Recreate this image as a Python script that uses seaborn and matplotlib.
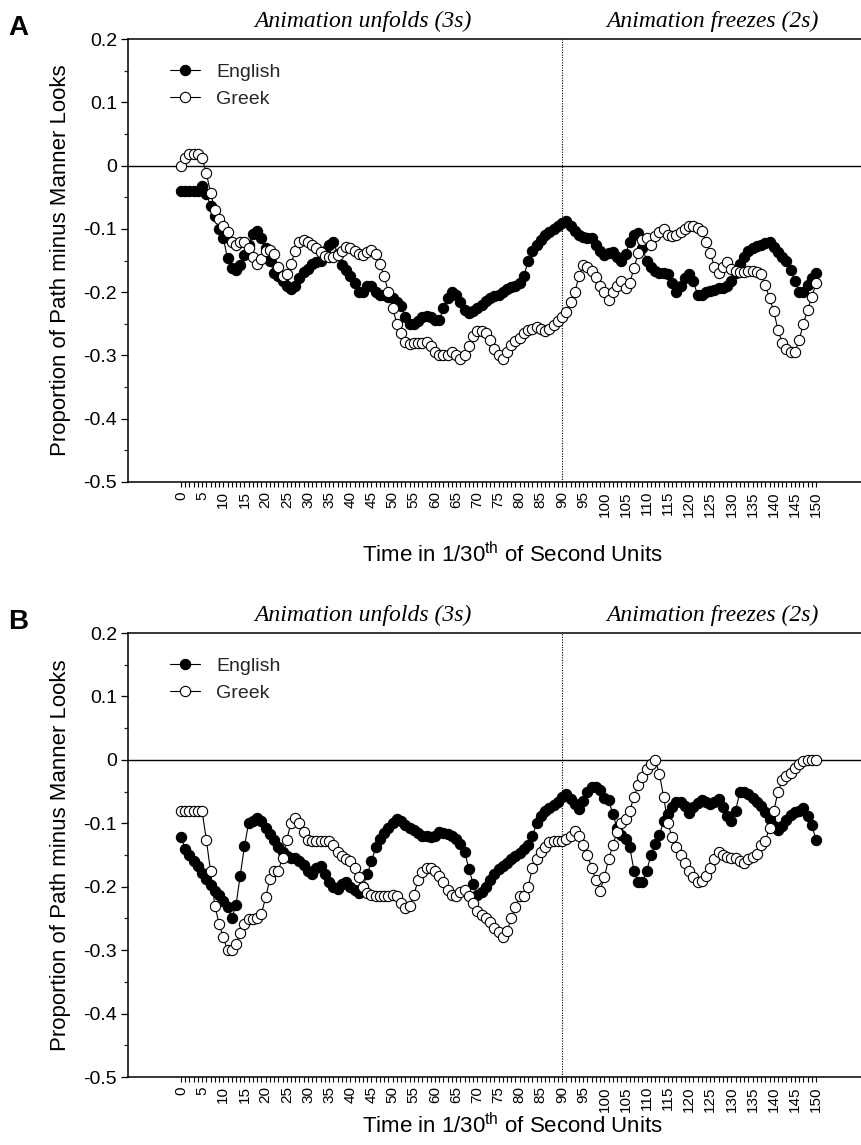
import numpy as np
import pandas as pd
import matplotlib
matplotlib.use("Agg")
import matplotlib.pyplot as plt
import matplotlib.transforms as mtransforms
from matplotlib.ticker import FixedLocator
import seaborn as sns

# ---------------- data ----------------
time = list(range(0, 151))

english_a = [
    -0.040, -0.040, -0.040, -0.040, -0.040, -0.033, -0.045, -0.064, -0.080, -0.100,
    -0.115, -0.146, -0.162, -0.165, -0.157, -0.141, -0.125, -0.108, -0.104, -0.115,
    -0.130, -0.150, -0.170, -0.175, -0.182, -0.190, -0.195, -0.190, -0.178, -0.168,
    -0.163, -0.155, -0.153, -0.150, -0.135, -0.125, -0.120, -0.140, -0.157, -0.165,
    -0.175, -0.185, -0.200, -0.200, -0.190, -0.190, -0.200, -0.205, -0.205, -0.208,
    -0.210, -0.215, -0.222, -0.240, -0.250, -0.250, -0.246, -0.240, -0.238, -0.240,
    -0.244, -0.244, -0.225, -0.210, -0.200, -0.205, -0.215, -0.228, -0.233, -0.230,
    -0.225, -0.220, -0.214, -0.210, -0.206, -0.204, -0.200, -0.195, -0.192, -0.190,
    -0.185, -0.175, -0.150, -0.135, -0.125, -0.118, -0.110, -0.105, -0.100, -0.095,
    -0.090, -0.088, -0.095, -0.104, -0.110, -0.113, -0.114, -0.115, -0.125, -0.135,
    -0.141, -0.138, -0.136, -0.145, -0.151, -0.140, -0.120, -0.110, -0.107, -0.130,
    -0.151, -0.160, -0.167, -0.170, -0.170, -0.172, -0.185, -0.199, -0.190, -0.178,
    -0.172, -0.183, -0.204, -0.204, -0.200, -0.198, -0.196, -0.194, -0.193, -0.190,
    -0.183, -0.170, -0.155, -0.145, -0.135, -0.130, -0.127, -0.125, -0.122, -0.120,
    -0.128, -0.136, -0.145, -0.151, -0.165, -0.183, -0.200, -0.200, -0.188, -0.178,
    -0.170,
]

greek_a = [
    0.000, 0.012, 0.018, 0.018, 0.018, 0.012, -0.012, -0.043, -0.070, -0.085,
    -0.095, -0.105, -0.120, -0.125, -0.120, -0.120, -0.130, -0.145, -0.155, -0.147,
    -0.135, -0.133, -0.140, -0.160, -0.175, -0.172, -0.155, -0.135, -0.120, -0.118,
    -0.120, -0.125, -0.130, -0.137, -0.143, -0.145, -0.145, -0.142, -0.135, -0.128,
    -0.130, -0.135, -0.140, -0.142, -0.137, -0.133, -0.140, -0.155, -0.175, -0.200,
    -0.225, -0.250, -0.265, -0.278, -0.282, -0.280, -0.280, -0.280, -0.278, -0.285,
    -0.295, -0.300, -0.300, -0.300, -0.295, -0.300, -0.305, -0.300, -0.285, -0.270,
    -0.262, -0.262, -0.265, -0.275, -0.290, -0.300, -0.305, -0.295, -0.283, -0.277,
    -0.272, -0.265, -0.260, -0.258, -0.255, -0.258, -0.262, -0.258, -0.252, -0.245,
    -0.240, -0.232, -0.215, -0.200, -0.175, -0.157, -0.160, -0.167, -0.176, -0.190,
    -0.200, -0.212, -0.200, -0.190, -0.183, -0.193, -0.185, -0.162, -0.138, -0.118,
    -0.115, -0.125, -0.112, -0.105, -0.101, -0.110, -0.112, -0.110, -0.105, -0.100,
    -0.096, -0.095, -0.098, -0.104, -0.120, -0.138, -0.160, -0.170, -0.160, -0.152,
    -0.163, -0.167, -0.168, -0.168, -0.167, -0.166, -0.168, -0.172, -0.188, -0.210,
    -0.230, -0.260, -0.280, -0.290, -0.295, -0.295, -0.275, -0.250, -0.228, -0.207,
    -0.186,
]

english_b = [
    -0.122, -0.140, -0.150, -0.160, -0.168, -0.178, -0.188, -0.197, -0.206, -0.213,
    -0.222, -0.232, -0.250, -0.229, -0.183, -0.136, -0.099, -0.097, -0.091, -0.096,
    -0.107, -0.117, -0.127, -0.138, -0.146, -0.151, -0.155, -0.154, -0.160, -0.165,
    -0.175, -0.180, -0.170, -0.167, -0.180, -0.193, -0.200, -0.204, -0.195, -0.193,
    -0.200, -0.205, -0.210, -0.200, -0.180, -0.160, -0.138, -0.125, -0.115, -0.108,
    -0.100, -0.094, -0.096, -0.102, -0.107, -0.110, -0.115, -0.120, -0.120, -0.122,
    -0.120, -0.114, -0.115, -0.117, -0.120, -0.125, -0.132, -0.145, -0.172, -0.195,
    -0.213, -0.208, -0.200, -0.190, -0.180, -0.172, -0.167, -0.162, -0.157, -0.152,
    -0.147, -0.140, -0.135, -0.120, -0.100, -0.088, -0.080, -0.076, -0.071, -0.066,
    -0.058, -0.054, -0.062, -0.070, -0.078, -0.065, -0.050, -0.043, -0.043, -0.048,
    -0.060, -0.064, -0.085, -0.108, -0.118, -0.125, -0.138, -0.175, -0.193, -0.193,
    -0.175, -0.150, -0.132, -0.118, -0.097, -0.085, -0.075, -0.066, -0.067, -0.072,
    -0.083, -0.075, -0.068, -0.063, -0.066, -0.070, -0.066, -0.062, -0.075, -0.088,
    -0.096, -0.080, -0.050, -0.050, -0.054, -0.060, -0.066, -0.072, -0.082, -0.093,
    -0.105, -0.110, -0.104, -0.095, -0.087, -0.082, -0.080, -0.076, -0.088, -0.103,
    -0.127,
]

greek_b = [
    -0.081, -0.081, -0.081, -0.081, -0.081, -0.081, -0.126, -0.176, -0.230, -0.258,
    -0.280, -0.300, -0.300, -0.291, -0.273, -0.259, -0.251, -0.251, -0.249, -0.243,
    -0.217, -0.188, -0.175, -0.175, -0.154, -0.126, -0.099, -0.092, -0.100, -0.114,
    -0.127, -0.128, -0.128, -0.128, -0.128, -0.128, -0.135, -0.145, -0.152, -0.156,
    -0.160, -0.170, -0.185, -0.200, -0.210, -0.213, -0.215, -0.215, -0.215, -0.214,
    -0.213, -0.215, -0.225, -0.233, -0.230, -0.213, -0.190, -0.177, -0.170, -0.170,
    -0.175, -0.183, -0.193, -0.205, -0.213, -0.215, -0.208, -0.205, -0.215, -0.225,
    -0.238, -0.245, -0.250, -0.255, -0.265, -0.272, -0.280, -0.270, -0.250, -0.232,
    -0.215, -0.215, -0.200, -0.170, -0.156, -0.146, -0.137, -0.130, -0.128, -0.128,
    -0.128, -0.125, -0.120, -0.112, -0.120, -0.135, -0.150, -0.170, -0.190, -0.206,
    -0.185, -0.156, -0.135, -0.113, -0.100, -0.093, -0.080, -0.058, -0.040, -0.027,
    -0.014, -0.006, 0.000, -0.022, -0.059, -0.100, -0.122, -0.138, -0.150, -0.162,
    -0.175, -0.185, -0.193, -0.191, -0.183, -0.170, -0.156, -0.146, -0.150, -0.153,
    -0.154, -0.155, -0.160, -0.162, -0.157, -0.153, -0.148, -0.135, -0.128, -0.107,
    -0.080, -0.051, -0.032, -0.025, -0.020, -0.013, -0.006, -0.002, 0.000, 0.000,
    0.000,
]

series_labels = ["English", "Greek"]
panel_labels = ["A", "B"]
phase_labels = ["Animation unfolds (3s)", "Animation freezes (2s)"]
y_ticks = [-0.5, -0.4, -0.3, -0.2, -0.1, 0.0, 0.1, 0.2]
y_ticklabels = ["-0.5", "-0.4", "-0.3", "-0.2", "-0.1", "0", "0.1", "0.2"]
x_ticks = list(range(0, 151, 5))
freeze_at = 90
x_label = "Time in 1/30$^{\\mathrm{th}}$ of Second Units"
y_label = "Proportion of Path minus Manner Looks"

# ---------------- style ----------------
sns.set_theme(style="white")
plt.rcParams["font.family"] = ["Liberation Sans", "DejaVu Sans"]
plt.rcParams["axes.unicode_minus"] = False
plt.rcParams["mathtext.fontset"] = "custom"
plt.rcParams["mathtext.rm"] = "Liberation Sans"
plt.rcParams["mathtext.it"] = "Liberation Sans:italic"

W, H = 862, 1145
fig = plt.figure(figsize=(W / 100, H / 100), dpi=100)

# (english, greek, top px, bottom px, x-label baseline px)
panels = [
    (english_a, greek_a, 39, 482, 562),
    (english_b, greek_b, 633, 1077, 1133),
]

for i, (eng, grk, top_px, bot_px, xl_px) in enumerate(panels):
    left_px = 128
    ax = fig.add_axes([left_px / W, 1 - bot_px / H, (W - left_px - 1) / W, (bot_px - top_px) / H])
    df = pd.DataFrame({"time": time, "English": eng, "Greek": grk})

    ax.axhline(0, color="black", lw=1.0, zorder=1)
    ax.axvline(freeze_at, color="black", lw=0.8, ls=(0, (1, 1.3)), zorder=1)

    sns.lineplot(data=df, x="time", y="English", ax=ax, color="black", lw=0.8,
                 marker="o", markersize=7.4, markerfacecolor="black",
                 markeredgecolor="black", markeredgewidth=0.8, label=series_labels[0],
                 zorder=3)
    sns.lineplot(data=df, x="time", y="Greek", ax=ax, color="black", lw=0.8,
                 marker="o", markersize=7.4, markerfacecolor="white",
                 markeredgecolor="black", markeredgewidth=0.8, label=series_labels[1],
                 zorder=4)

    ax.set_xlim(-12.5, 160.6)
    ax.set_ylim(-0.5, 0.2)

    ax.xaxis.set_major_locator(FixedLocator(x_ticks))
    ax.xaxis.set_minor_locator(FixedLocator(time))
    ax.set_xticklabels([str(t) for t in x_ticks], rotation=90, fontsize=11)
    ax.yaxis.set_major_locator(FixedLocator(y_ticks))
    ax.yaxis.set_minor_locator(FixedLocator([v + 0.05 for v in y_ticks[:-1]]))
    ax.set_yticklabels(y_ticklabels, fontsize=14)

    ax.tick_params(axis="x", which="both", direction="out", length=3.5, width=0.8,
                   bottom=True, top=False, pad=3, colors="black")
    ax.tick_params(axis="y", which="major", direction="out", length=5, width=0.9,
                   left=True, right=False, pad=3, colors="black")
    ax.tick_params(axis="y", which="minor", direction="out", length=2.8, width=0.9,
                   left=True, right=False)

    for side in ["left", "top", "bottom"]:
        ax.spines[side].set_visible(True)
        ax.spines[side].set_color("black")
        ax.spines[side].set_linewidth(1.1)
    ax.spines["right"].set_visible(False)

    ax.set_xlabel("")
    ax.set_ylabel(y_label, fontsize=16, color="black")
    ax.yaxis.set_label_coords(-0.078, 0.5)

    ax.legend(loc="upper left", bbox_to_anchor=(0.047, 0.962), borderaxespad=0,
              frameon=False, fontsize=14, handlelength=1.55, handletextpad=0.8,
              labelspacing=0.45)

    trans = mtransforms.blended_transform_factory(ax.transData, ax.transAxes)
    ax.text(43, 1.027, phase_labels[0], transform=trans, ha="center", va="baseline",
            fontsize=17, family="Liberation Serif", style="italic", color="black")
    ax.text(150.5, 1.027, phase_labels[1], transform=trans, ha="right", va="baseline",
            fontsize=17, family="Liberation Serif", style="italic", color="black")

    fig.text(8 / W, 1 - (top_px - 4) / H, panel_labels[i], fontsize=20, fontweight="bold",
             ha="left", va="baseline", color="black")

    fig.text(512 / W, 1 - xl_px / H, x_label, fontsize=16, ha="center",
             va="baseline", color="black")

fig.savefig("out.png", dpi=100)
